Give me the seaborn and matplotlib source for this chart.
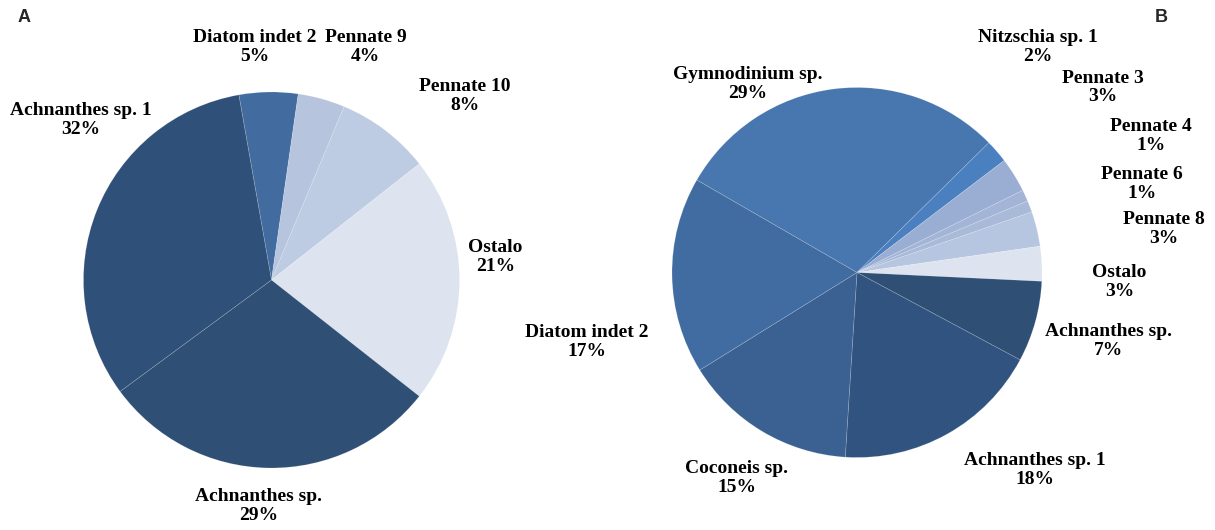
import matplotlib
matplotlib.use("Agg")
import matplotlib.pyplot as plt
import seaborn as sns

# ---------------- data ----------------
cats_a = ["Diatom indet 2", "Pennate 9", "Pennate 10", "Ostalo",
          "Achnanthes sp.", "Achnanthes sp. 1"]
vals_a = [5, 4, 8, 21, 29, 32]

cats_b = ["Gymnodinium sp.", "Nitzschia sp. 1", "Pennate 3", "Pennate 4",
          "Pennate 6", "Pennate 8", "Ostalo", "Achnanthes sp.",
          "Achnanthes sp. 1", "Coconeis sp.", "Diatom indet 2"]
vals_b = [29, 2, 3, 1, 1, 3, 3, 7, 18, 15, 17]

# ---------------- styles / layout ----------------
colors_a = ["#426c9f", "#b6c4de", "#bdcbe3", "#dde3ef", "#2f4f75", "#2f5078"]
colors_b = ["#4876ae", "#4b80c0", "#9aaed3", "#a3b5d7", "#a9bad9", "#b6c5e0",
            "#dde3ef", "#2f4f75", "#31537f", "#3a6192", "#416ca2"]

# label positions (in units of pie radius)
lab_a = [(-0.09, 1.24), (0.50, 1.24), (1.03, 0.98), (1.19, 0.12),
         (-0.07, -1.20), (-1.015, 0.85)]
lab_b = [(-0.59, 1.02), (0.98, 1.22), (1.33, 1.00), (1.59, 0.74),
         (1.54, 0.48), (1.66, 0.235), (1.42, -0.05), (1.36, -0.37),
         (0.96, -1.07), (-0.65, -1.11), (-1.46, -0.375)]

sns.set_theme(style="white")
plt.rcParams["font.family"] = ["Liberation Serif", "DejaVu Serif"]

fig = plt.figure(figsize=(12.15, 5.3), dpi=100)
fig.patch.set_facecolor("white")

ax_a = fig.add_axes([0.0687, 0.117, 0.3095, 0.7094])
ax_b = fig.add_axes([0.5531, 0.1368, 0.3045, 0.6981])


def draw(ax, cats, vals, cols, labpos, start):
    ax.pie(vals, colors=cols, startangle=start, counterclock=False,
           wedgeprops=dict(linewidth=0.5, edgecolor=(1, 1, 1, 0.2)))
    for c, v, (x, y) in zip(cats, vals, labpos):
        ax.text(x, y, f"{c}\n{v}%", ha="center", va="center",
                fontsize=14, fontweight="bold", linespacing=1.15,
                color="black", clip_on=False)
    ax.set_xlim(-1, 1)
    ax.set_ylim(-1, 1)
    ax.set_aspect("auto")
    ax.axis("off")


draw(ax_a, cats_a, vals_a, colors_a, lab_a, 100)
draw(ax_b, cats_b, vals_b, colors_b, lab_b, 150)

fig.text(18 / 1215, 1 - 18 / 530, "A", fontsize=13, fontweight="bold",
         family="Liberation Sans", ha="left", va="center")
fig.text(1155 / 1215, 1 - 18 / 530, "B", fontsize=13, fontweight="bold",
         family="Liberation Sans", ha="left", va="center")

fig.savefig("out.png", dpi=100, facecolor="white")
